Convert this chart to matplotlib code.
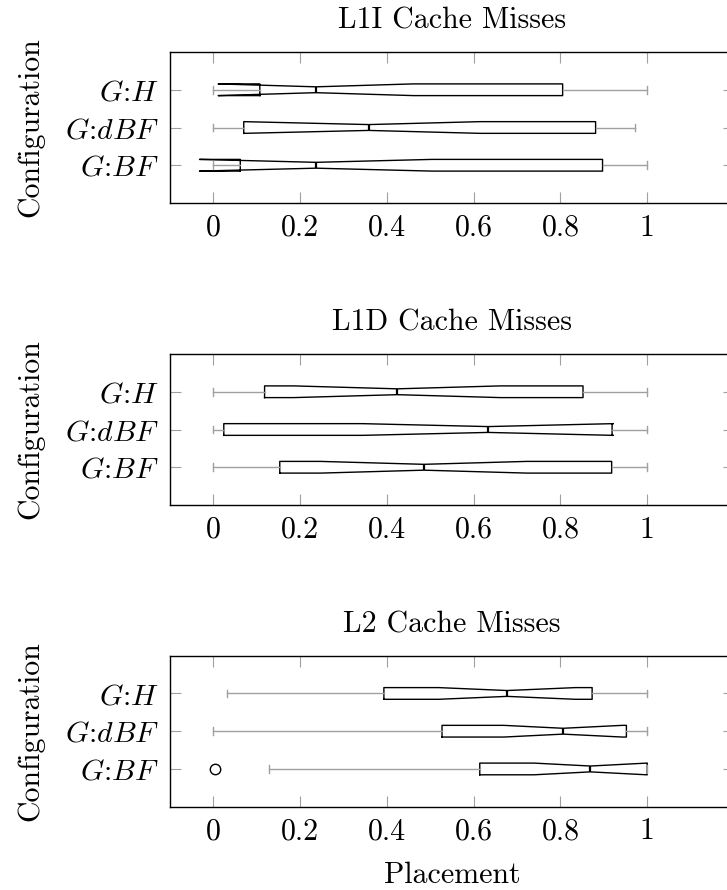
import matplotlib
matplotlib.use("Agg")
import matplotlib.pyplot as plt

plt.rcParams['font.family'] = ['cmr10', 'DejaVu Serif']
plt.rcParams['mathtext.fontset'] = 'cm'
plt.rcParams['axes.unicode_minus'] = False
plt.rcParams['axes.formatter.use_mathtext'] = False

configs = [r'$G$:$BF$', r'$G$:$dBF$', r'$G$:$H$']
titles = ['L1I Cache Misses', 'L1D Cache Misses', 'L2 Cache Misses']
xticks = [0, 0.2, 0.4, 0.6, 0.8, 1]
xticklabels = ['0', '0.2', '0.4', '0.6', '0.8', '1']

# order per panel: G:BF, G:dBF, G:H
l1i_whislo = [0.0, 0.0, 0.0]
l1i_q1 = [0.062, 0.070, 0.107]
l1i_cilo = [-0.032, 0.070, 0.011]
l1i_med = [0.236, 0.358, 0.236]
l1i_cihi = [0.504, 0.615, 0.461]
l1i_q3 = [0.897, 0.881, 0.805]
l1i_whishi = [1.0, 0.972, 1.0]
l1i_fliers = [[], [], []]

l1d_whislo = [0.0, 0.0, 0.0]
l1d_q1 = [0.153, 0.024, 0.118]
l1d_cilo = [0.247, 0.343, 0.185]
l1d_med = [0.485, 0.633, 0.424]
l1d_cihi = [0.723, 0.922, 0.662]
l1d_q3 = [0.918, 0.919, 0.852]
l1d_whishi = [1.0, 1.0, 1.0]
l1d_fliers = [[], [], []]

l2_whislo = [0.129, 0.0, 0.032]
l2_q1 = [0.614, 0.527, 0.393]
l2_cilo = [0.739, 0.669, 0.519]
l2_med = [0.869, 0.806, 0.677]
l2_cihi = [0.999, 0.943, 0.835]
l2_q3 = [1.0, 0.952, 0.873]
l2_whishi = [1.0, 1.0, 1.0]
l2_fliers = [[0.003], [], []]

panels = [
    (l1i_whislo, l1i_q1, l1i_cilo, l1i_med, l1i_cihi, l1i_q3, l1i_whishi, l1i_fliers),
    (l1d_whislo, l1d_q1, l1d_cilo, l1d_med, l1d_cihi, l1d_q3, l1d_whishi, l1d_fliers),
    (l2_whislo, l2_q1, l2_cilo, l2_med, l2_cihi, l2_q3, l2_whishi, l2_fliers),
]

W, H = 727, 890
fig = plt.figure(figsize=(W / 100, H / 100), dpi=100)

left_px, right_px = 170, 734
tops = [52, 354, 655.7]
height_px = 151
fs = 21.5
grey = '#a0a0a0'

for i, (wl, q1, cl, md, ch, q3, wh, fl) in enumerate(panels):
    top = tops[i]
    ax = fig.add_axes([left_px / W, 1 - (top + height_px) / H,
                       (right_px - left_px) / W, height_px / H])
    stats = []
    for k in range(3):
        stats.append(dict(whislo=wl[k], q1=q1[k], cilo=cl[k], med=md[k],
                          cihi=ch[k], q3=q3[k], whishi=wh[k], fliers=fl[k]))
    ax.bxp(stats, positions=[1, 2, 3], widths=0.31, vert=False,
           shownotches=True, showfliers=True, capwidths=0.2,
           boxprops=dict(color='black', linewidth=1.0),
           medianprops=dict(color='black', linewidth=1.6),
           whiskerprops=dict(color=grey, linewidth=1.0),
           capprops=dict(color=grey, linewidth=1.0),
           flierprops=dict(marker='o', markerfacecolor='none',
                           markeredgecolor='black', markersize=7.5,
                           markeredgewidth=1.0))
    ax.set_xlim(-0.1, 1.2)
    ax.set_ylim(0, 4)
    ax.set_xticks(xticks)
    ax.set_xticklabels(xticklabels, fontsize=fs)
    ax.set_yticks([1, 2, 3])
    ax.set_yticklabels(configs, fontsize=fs)
    ax.tick_params(axis='both', direction='in', length=8, width=0.8,
                   color=grey, top=True, right=True, pad=8)
    for s in ax.spines.values():
        s.set_linewidth(1.0)
        s.set_color('black')
    ax.set_title(titles[i], fontsize=fs, pad=17)
    ax.set_ylabel('Configuration', fontsize=fs)
    ax.yaxis.set_label_coords(-0.222, 0.5)
    if i == 2:
        ax.set_xlabel('Placement', fontsize=fs)
        ax.xaxis.set_label_coords(0.5, -0.365)

fig.savefig('out.png', dpi=100)
